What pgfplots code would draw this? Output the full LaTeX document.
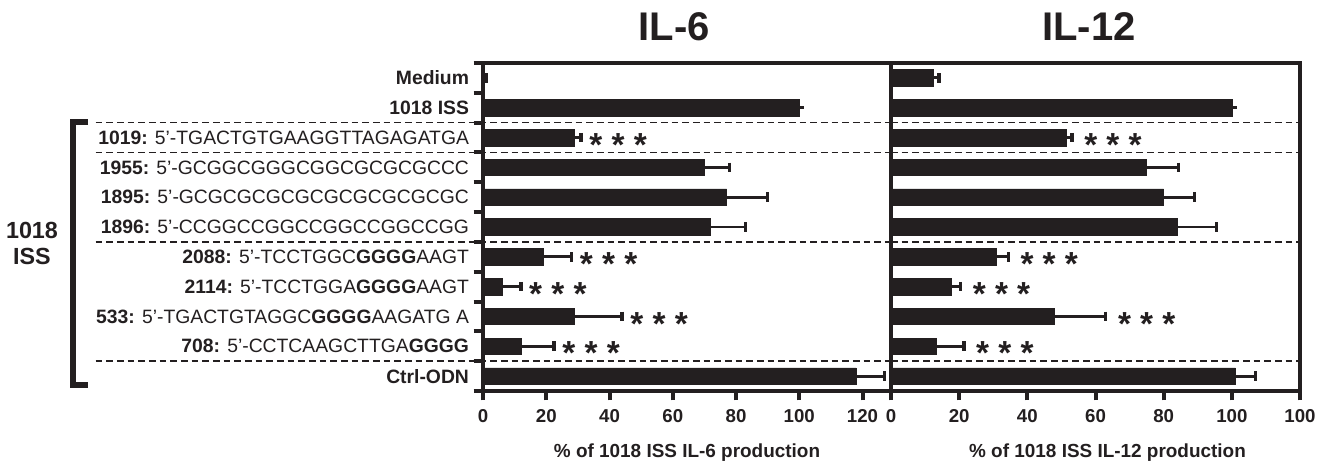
\documentclass[border=0pt]{standalone}
\usepackage{fontspec}
\setmainfont{Liberation Sans}
\usepackage{pgfplots}
\pgfplotsset{compat=1.18}
\definecolor{ink}{RGB}{35,31,32}

\pgfplotsset{
  panel/.style={
    scale only axis,
    height=246pt,
    ymin=-0.5, ymax=10.5, y dir=reverse,
    xmin=0,
    axis line style={ink, line width=3pt},
    tick align=outside,
    major tick length=7pt,
    tick style={ink, line width=3pt},
    xtick pos=bottom, ytick pos=left,
    xticklabel style={font=\fontsize{14}{14}\selectfont\bfseries, text=ink, yshift=-3pt},
    /pgf/number format/assume math mode=true,
    xlabel style={font=\fontsize{14.2}{14.2}\selectfont\bfseries, text=ink, yshift=-9pt},
    clip=false,
  },
  barstyle/.style={xbar, bar width=12.4pt, bar shift=0pt,
    fill=ink, draw=ink, line width=0.4pt, mark=none,
    error bars/.cd, x dir=plus, x explicit,
    error mark=|,
    error bar style={ink, line width=2.2pt},
    error mark options={ink, line width=2.6pt, mark size=3.6pt}},
}
\tikzset{
  stars/.style={anchor=base west, inner sep=0pt, yshift=-14pt,
    font=\fontsize{25}{25}\selectfont\bfseries, text=ink},
}

\begin{document}
\begin{tikzpicture}[x=0.75pt,y=0.75pt]
\path[use as bounding box] (0,0) rectangle (1334,461);

% IL-6 panel
\begin{axis}[panel,
  at={(362.25pt,52.5pt)}, anchor=south west,
  width=306pt, xmax=129,
  xtick={0,20,40,60,80,100,120},
  ytick={-0.5,0.5,1.5,...,10.5},
  yticklabel style={font=\fontsize{14.5}{14.5}\selectfont, text=ink, anchor=east, yshift=11.18pt},
  yticklabels={{},
    {\textbf{Medium}},
    {\textbf{1018 ISS}},
    {\textbf{1019:} 5'-TGACTGTGAAGGTTAGAGATGA},
    {\textbf{1955:} 5'-GCGGCGGGCGGCGCGCGCCC},
    {\textbf{1895:} 5'-GCGCGCGCGCGCGCGCGCGC},
    {\textbf{1896:} 5'-CCGGCCGGCCGGCCGGCCGG},
    {\textbf{2088:} 5'-TCCTGGC\textbf{GGGG}AAGT},
    {\textbf{2114:} 5'-TCCTGGA\textbf{GGGG}AAGT},
    {\textbf{533:} 5'-TGACTGTAGGC\textbf{GGGG}AAGATG A},
    {\textbf{708:} 5'-CCTCAAGCTTGA\textbf{GGGG}},
    {\textbf{Ctrl-ODN}}},
  xlabel={\% of 1018 ISS IL-6 production},
]
\foreach \yy in {1.5,2.5,5.5,9.5}{
  \edef\tmp{\noexpand\draw[ink, line width=1.1pt, dash pattern=on 5pt off 3pt] (axis cs:-122.5,\yy) -- (axis cs:129,\yy);}\tmp
}
\foreach \yy in {-0.5,0.5,1.5,2.5,3.5,4.5,5.5,6.5,7.5,8.5,9.5,10.5}{
  \edef\tmp{\noexpand\draw[ink, line width=3pt] (axis cs:0,\yy) -- ++(-7pt,0pt);}\tmp
}
\addplot[barstyle] coordinates {
  (0.5,0) +- (0.4,0)
  (100,1) +- (0,0)
  (29,2) +- (2,0)
  (70,3) +- (8,0)
  (77,4) +- (13,0)
  (72,5) +- (11,0)
  (19,6) +- (9,0)
  (6,7) +- (6,0)
  (29,8) +- (15,0)
  (12,9) +- (10.5,0)
  (118,10) +- (9,0)
};
\node[stars, xshift=6pt] at (axis cs:31,2) {* * *};
\node[stars, xshift=6pt] at (axis cs:28,6) {* * *};
\node[stars, xshift=6pt] at (axis cs:12,7) {* * *};
\node[stars, xshift=6pt] at (axis cs:44,8) {* * *};
\node[stars, xshift=6pt] at (axis cs:22.5,9) {* * *};
\end{axis}

% IL-12 panel
\begin{axis}[panel,
  at={(668.25pt,52.5pt)}, anchor=south west,
  width=306.75pt, xmax=120,
  xtick={0,20,40,60,80,100,120},
  xticklabels={0,20,40,60,80,100,100},
  ytick=\empty,
  xlabel={\% of 1018 ISS IL-12 production},
  xlabel style={xshift=9pt},
]
\foreach \yy in {1.5,2.5,5.5,9.5}{
  \edef\tmp{\noexpand\draw[ink, line width=1.1pt, dash pattern=on 5pt off 3pt] (axis cs:0,\yy) -- (axis cs:120,\yy);}\tmp
}
\addplot[barstyle] coordinates {
  (12.4,0) +- (1.7,0)
  (100,1) +- (0,0)
  (51.3,2) +- (1.8,0)
  (75,3) +- (9.4,0)
  (80,4) +- (9,0)
  (84,5) +- (11.5,0)
  (31,6) +- (3.4,0)
  (17.7,7) +- (2.7,0)
  (48,8) +- (15,0)
  (13.4,9) +- (8,0)
  (101,10) +- (6,0)
};
\node[stars, xshift=9pt] at (axis cs:53.1,2) {* * *};
\node[stars, xshift=9pt] at (axis cs:34.4,6) {* * *};
\node[stars, xshift=9pt] at (axis cs:20.4,7) {* * *};
\node[stars, xshift=9pt] at (axis cs:63,8) {* * *};
\node[stars, xshift=9pt] at (axis cs:21.4,9) {* * *};
\end{axis}

% titles
\node[font=\fontsize{30}{30}\selectfont\bfseries, text=ink] at (674,434) {IL-6};
\node[font=\fontsize{30}{30}\selectfont\bfseries, text=ink] at (1089,434) {IL-12};

% bracket
\draw[ink, line width=4.5pt, line join=miter, line cap=butt] (88,338.5) -- (73,338.5) -- (73,76.5) -- (88,76.5);
\node[font=\fontsize{17.5}{19.5}\selectfont\bfseries, text=ink, align=center] at (32,218) {1018\\ISS};
\end{tikzpicture}
\end{document}
